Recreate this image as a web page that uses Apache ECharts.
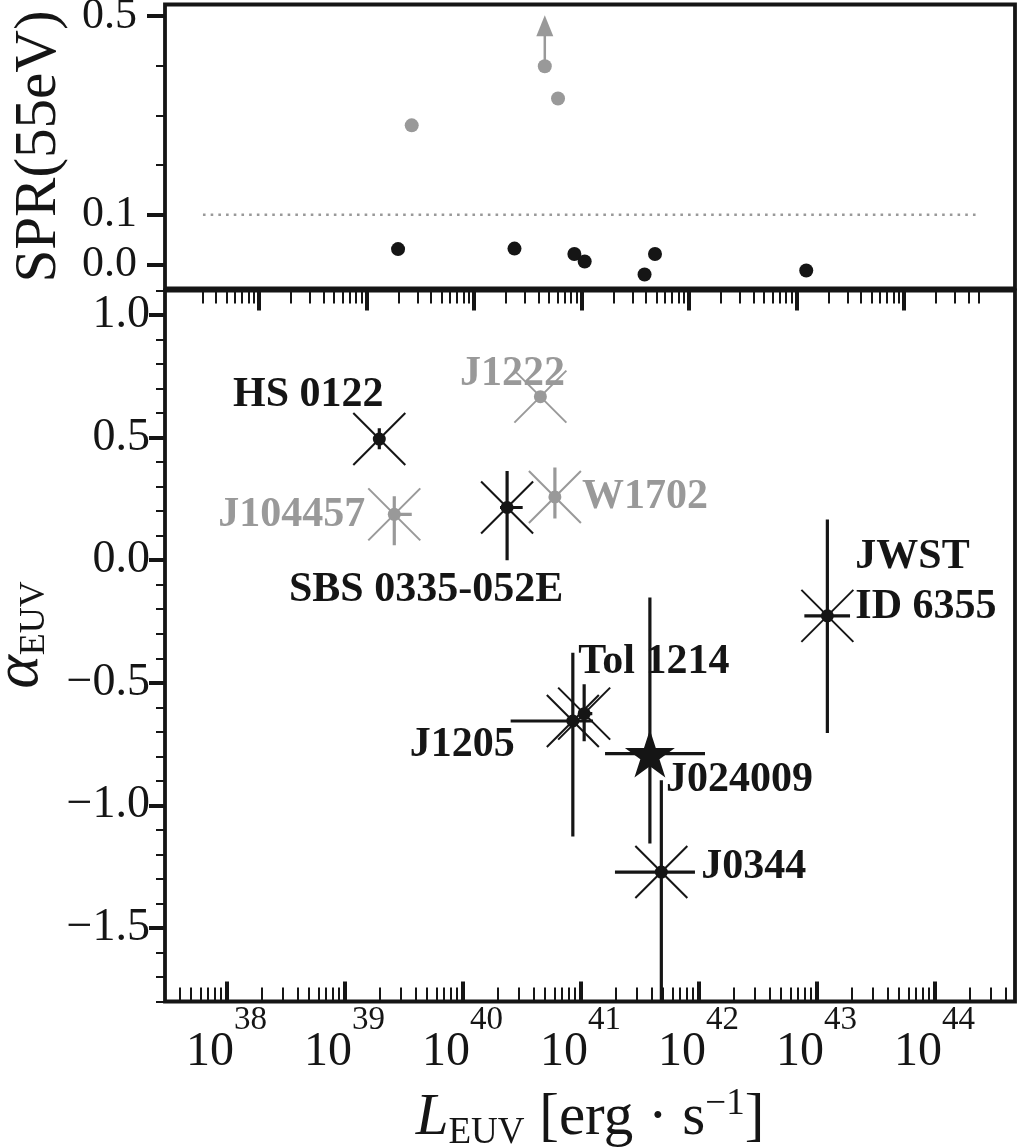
<!DOCTYPE html>
<html><head><meta charset="utf-8">
<script src="https://cdn.jsdelivr.net/npm/echarts@6/dist/echarts.min.js"></script>
<style>html,body{margin:0;padding:0;background:#fff}#c{width:1020px;height:1148px}</style>
</head><body><div id="c"></div>
<script>
// ---------------- data ----------------
const names = ['HS 0122','J104457','SBS 0335-052E','J1222','W1702','J1205','Tol 1214','J024009','J0344','JWST\nID 6355'];
const logLEUV     = [39.295, 39.422, 40.378, 40.660, 40.783, 40.935, 41.031, 41.588, 41.685, 43.092];
const logLEUVLow  = [39.295, 39.386, 40.318, 40.660, 40.783, 40.408, 40.990, 41.208, 41.292, 42.897];
const logLEUVHigh = [39.295, 39.570, 40.510, 40.660, 40.783, 41.106, 41.100, 42.055, 41.970, 43.284];
const alphaEUV    = [0.494, 0.187, 0.215, 0.667, 0.258, -0.656, -0.626, -0.789, -1.272, -0.227];
const alphaLow    = [0.453, 0.061, 0.000, 0.667, 0.170, -1.127, -0.738, -1.156, -1.950, -0.705];
const alphaHigh   = [0.538, 0.261, 0.364, 0.667, 0.378, -0.378, -0.506, -0.152, -0.898, 0.166];
const spr55       = [0.031, 0.280, 0.032, 0.399, 0.334, 0.021, 0.006, -0.020, 0.021, -0.012];
const sprIsLowerLimit = [false,false,false,true,false,false,false,false,false,false];
const markerKind  = ['cross','cross','cross','cross','cross','cross','cross','star','cross','cross'];
const sprThreshold = 0.1;
const sprThresholdSpan = [37.48, 44.68];
const xMajorTicks = [38,39,40,41,42,43,44];
const sprTickLabels = [0.0, 0.1, 0.5];
const sprMinorTicks = [0.2, 0.3, 0.4];
const alphaTickLabels = [1.0, 0.5, 0.0, -0.5, -1.0, -1.5];

// ---------------- style ----------------
const BLACK = '#151515', GRAY = '#999999';
const FONT = "'Liberation Serif','Times New Roman',serif";
const labelLayout = {
  'HS 0122':       {align:'center', offset:[-71,-44]},
  'J1222':         {align:'center', offset:[-28,-23]},
  'J104457':       {align:'right',  offset:[-29,1]},
  'W1702':         {align:'left',   offset:[27,0]},
  'SBS 0335-052E': {align:'center', offset:[-81,83]},
  'JWST\nID 6355': {align:'left',   offset:[28,-34]},
  'Tol 1214':      {align:'left',   offset:[-6,-52]},
  'J1205':         {align:'right',  offset:[-58,24]},
  'J024009':       {align:'left',   offset:[16,27]},
  'J0344':         {align:'left',   offset:[40,-5]}
};
const colorOf = i => spr55[i] > sprThreshold ? GRAY : BLACK;
const idx = names.map((_, i) => i);
const order = idx.filter(i => colorOf(i) === GRAY).concat(idx.filter(i => colorOf(i) === BLACK));

function starPath() {
  const p = [];
  for (let k = 0; k < 10; k++) {
    const r = k % 2 ? 0.382 : 1;
    const a = (-90 + k * 36) * Math.PI / 180;
    p.push((r * Math.cos(a)).toFixed(4) + ',' + (r * Math.sin(a)).toFixed(4));
  }
  return 'path://M' + p.join('L') + 'Z';
}
function minorTicks(lo, hi) {
  const out = [];
  for (let d = 37; d <= 45; d++) for (let k = 2; k <= 9; k++) {
    const v = d + Math.log10(k);
    if (v >= lo - 1e-6 && v <= hi + 1e-6) out.push(v);
  }
  return out;
}
function alphaMinor() {
  const out = [];
  for (let k = -18; k <= 11; k++) { if (k % 5 !== 0) out.push(k / 10); }
  return out;
}
const fmtNum = v => (Math.abs(v) < 1e-9 ? '0.0' : (v < 0 ? '\u2212' + Math.abs(v).toFixed(1) : v.toFixed(1)));

const X_TOP = [37.127, 45.034], X_BOT = [37.479, 44.682];
const Y_TOP = [-0.0483, 0.5231], Y_BOT = [-1.8, 1.1];
const gTop = {left:165, top:4.5, width:850, height:284};
const gBot = {left:165, top:290.5, width:850, height:711};

function baseAxis(extra) {
  return Object.assign({
    type:'value', axisLine:{show:false, onZero:false}, splitLine:{show:false},
    axisLabel:{show:false}, nameMoveOverlap:false
  }, extra);
}

const chart = echarts.init(document.getElementById('c'));
chart.setOption({
  animation:false,
  backgroundColor:'#ffffff',
  grid:[
    Object.assign({show:true, borderColor:BLACK, borderWidth:3.8, backgroundColor:'transparent', outerBoundsMode:'none'}, gTop),
    Object.assign({show:true, borderColor:BLACK, borderWidth:3.8, backgroundColor:'transparent', outerBoundsMode:'none'}, gBot),
    Object.assign({show:false, outerBoundsMode:'none'}, gTop),
    Object.assign({show:false, outerBoundsMode:'none'}, gBot)
  ],
  xAxis:[
    baseAxis({gridIndex:0, min:X_TOP[0], max:X_TOP[1], position:'bottom',
      axisTick:{show:true, inside:false, length:22, customValues:xMajorTicks, lineStyle:{color:BLACK, width:4}}}),
    baseAxis({gridIndex:2, min:X_TOP[0], max:X_TOP[1], position:'bottom',
      axisTick:{show:true, inside:false, length:15, customValues:minorTicks(37.47, 44.70), lineStyle:{color:BLACK, width:2}}}),
    baseAxis({gridIndex:1, min:X_BOT[0], max:X_BOT[1], position:'bottom',
      axisTick:{show:true, inside:true, length:20, customValues:xMajorTicks, lineStyle:{color:BLACK, width:4}},
      axisLabel:{show:true, customValues:xMajorTicks, margin:2,
        formatter:v => '{b|10}{s|' + Math.round(v) + '}',
        rich:{
          b:{fontFamily:FONT, fontSize:48, lineHeight:98, color:BLACK},
          s:{fontFamily:FONT, fontSize:33, lineHeight:40, verticalAlign:'top', color:BLACK}
        }},
      name:'{i|L}{sub|EUV} [erg \u00b7 s{sup|\u22121}]', nameLocation:'middle', nameGap:84,
      nameTextStyle:{fontFamily:FONT, fontSize:59, lineHeight:66, color:BLACK,
        rich:{
          i:{fontFamily:FONT, fontStyle:'italic', fontSize:59, lineHeight:66, color:BLACK},
          sub:{fontFamily:FONT, fontSize:37, lineHeight:37, verticalAlign:'bottom', color:BLACK},
          sup:{fontFamily:FONT, fontSize:37, lineHeight:30, verticalAlign:'top', color:BLACK}
        }}}),
    baseAxis({gridIndex:3, min:X_BOT[0], max:X_BOT[1], position:'bottom',
      axisTick:{show:true, inside:true, length:14, customValues:minorTicks(X_BOT[0], X_BOT[1]), lineStyle:{color:BLACK, width:2}}})
  ],
  yAxis:[
    baseAxis({gridIndex:0, min:Y_TOP[0], max:Y_TOP[1], position:'left',
      axisTick:{show:true, inside:false, length:18, customValues:sprTickLabels, lineStyle:{color:BLACK, width:4}},
      axisLabel:{show:true, customValues:sprTickLabels, margin:28, formatter:fmtNum,
        fontFamily:FONT, fontSize:44, color:BLACK},
      name:'SPR(55eV)', nameLocation:'middle', nameRotate:90, nameGap:96,
      nameTextStyle:{fontFamily:FONT, fontSize:59, color:BLACK}}),
    baseAxis({gridIndex:2, min:Y_TOP[0], max:Y_TOP[1], position:'left',
      axisTick:{show:true, inside:false, length:9, customValues:sprMinorTicks, lineStyle:{color:BLACK, width:2}}}),
    baseAxis({gridIndex:1, min:Y_BOT[0], max:Y_BOT[1], position:'left',
      axisTick:{show:true, inside:false, length:16, customValues:alphaTickLabels, lineStyle:{color:BLACK, width:4}},
      axisLabel:{show:true, customValues:alphaTickLabels, margin:15, formatter:fmtNum,
        fontFamily:FONT, fontSize:46, color:BLACK},
      name:'{a|\u03b1}{sub|EUV}', nameLocation:'middle', nameRotate:90, nameGap:112,
      nameTextStyle:{fontFamily:FONT, fontSize:64, lineHeight:66, color:BLACK, padding:[0,0,0,22],
        rich:{
          a:{fontFamily:FONT, fontStyle:'italic', fontSize:64, lineHeight:66, color:BLACK},
          sub:{fontFamily:FONT, fontSize:36, lineHeight:36, verticalAlign:'bottom', color:BLACK}
        }}}),
    baseAxis({gridIndex:3, min:Y_BOT[0], max:Y_BOT[1], position:'left',
      axisTick:{show:true, inside:false, length:9, customValues:alphaMinor(), lineStyle:{color:BLACK, width:2}}})
  ],
  series:[
    // SPR threshold
    {type:'line', xAxisIndex:0, yAxisIndex:0, silent:true, showSymbol:false, z:2,
     data:[[sprThresholdSpan[0], sprThreshold],[sprThresholdSpan[1], sprThreshold]],
     lineStyle:{color:GRAY, width:2.6, type:[2.6,5.1], opacity:1}},
    // SPR points
    {type:'scatter', xAxisIndex:0, yAxisIndex:0, symbolSize:14, z:3, itemStyle:{opacity:1},
     data: order.map(i => ({value:[logLEUV[i], spr55[i]], itemStyle:{color:colorOf(i), opacity:1}}))},
    // SPR lower-limit arrows
    {type:'custom', xAxisIndex:0, yAxisIndex:0, z:3,
     data: idx.filter(i => sprIsLowerLimit[i]).map(i => [logLEUV[i], spr55[i], i]),
     renderItem:(params, api) => {
       const c = api.coord([api.value(0), api.value(1)]);
       const col = colorOf(api.value(2));
       return {type:'group', children:[
         {type:'line', shape:{x1:c[0], y1:c[1]-6, x2:c[0], y2:c[1]-32}, style:{stroke:col, lineWidth:2.5}},
         {type:'polygon', shape:{points:[[c[0], c[1]-51],[c[0]-8.5, c[1]-30],[c[0]+8.5, c[1]-30]]}, style:{fill:col}}
       ]};
     }},
    // labels (below markers)
    {type:'scatter', xAxisIndex:2, yAxisIndex:2, symbolSize:1, z:1, silent:true,
     itemStyle:{color:'rgba(0,0,0,0)', opacity:1},
     label:{show:true, position:'inside', verticalAlign:'middle', formatter:p => p.name, opacity:1,
       fontFamily:FONT, fontWeight:'bold', fontSize:42, lineHeight:50},
     data: idx.map(i => ({name:names[i], value:[logLEUV[i], alphaEUV[i]],
       label:{align:labelLayout[names[i]].align, offset:labelLayout[names[i]].offset, color:colorOf(i)}}))},
    // error bars + cross markers
    {type:'custom', xAxisIndex:2, yAxisIndex:2, clip:true, z:3,
     data: order.map(i => [logLEUV[i], alphaEUV[i], logLEUVLow[i], logLEUVHigh[i], alphaLow[i], alphaHigh[i], i]),
     renderItem:(params, api) => {
       const i = api.value(6);
       const col = colorOf(i);
       const c = api.coord([api.value(0), api.value(1)]);
       const yHi = api.coord([api.value(0), api.value(5)])[1];
       const yLo = api.coord([api.value(0), api.value(4)])[1];
       const xLo = api.coord([api.value(2), api.value(1)])[0];
       const xHi = api.coord([api.value(3), api.value(1)])[0];
       const st = {stroke:col, lineWidth:3.2};
       const ch = [
         {type:'line', shape:{x1:c[0], y1:yHi, x2:c[0], y2:yLo}, style:st},
         {type:'line', shape:{x1:xLo, y1:c[1], x2:xHi, y2:c[1]}, style:st}
       ];
       if (markerKind[i] === 'cross') {
         const h = 26, s2 = {stroke:col, lineWidth:2};
         ch.push({type:'line', shape:{x1:c[0]-h, y1:c[1]-h, x2:c[0]+h, y2:c[1]+h}, style:s2});
         ch.push({type:'line', shape:{x1:c[0]-h, y1:c[1]+h, x2:c[0]+h, y2:c[1]-h}, style:s2});
       }
       return {type:'group', children:ch};
     }},
    // dots
    {type:'scatter', xAxisIndex:2, yAxisIndex:2, symbolSize:13, z:4, itemStyle:{opacity:1},
     data: order.filter(i => markerKind[i] === 'cross').map(i => ({value:[logLEUV[i], alphaEUV[i]], itemStyle:{color:colorOf(i), opacity:1}}))},
    // star
    {type:'scatter', xAxisIndex:2, yAxisIndex:2, symbol:starPath(), symbolSize:50, symbolKeepAspect:true, z:4, itemStyle:{opacity:1},
     data: idx.filter(i => markerKind[i] === 'star').map(i => ({value:[logLEUV[i], alphaEUV[i]], itemStyle:{color:BLACK, opacity:1}}))}
  ]
});
</script></body></html>
